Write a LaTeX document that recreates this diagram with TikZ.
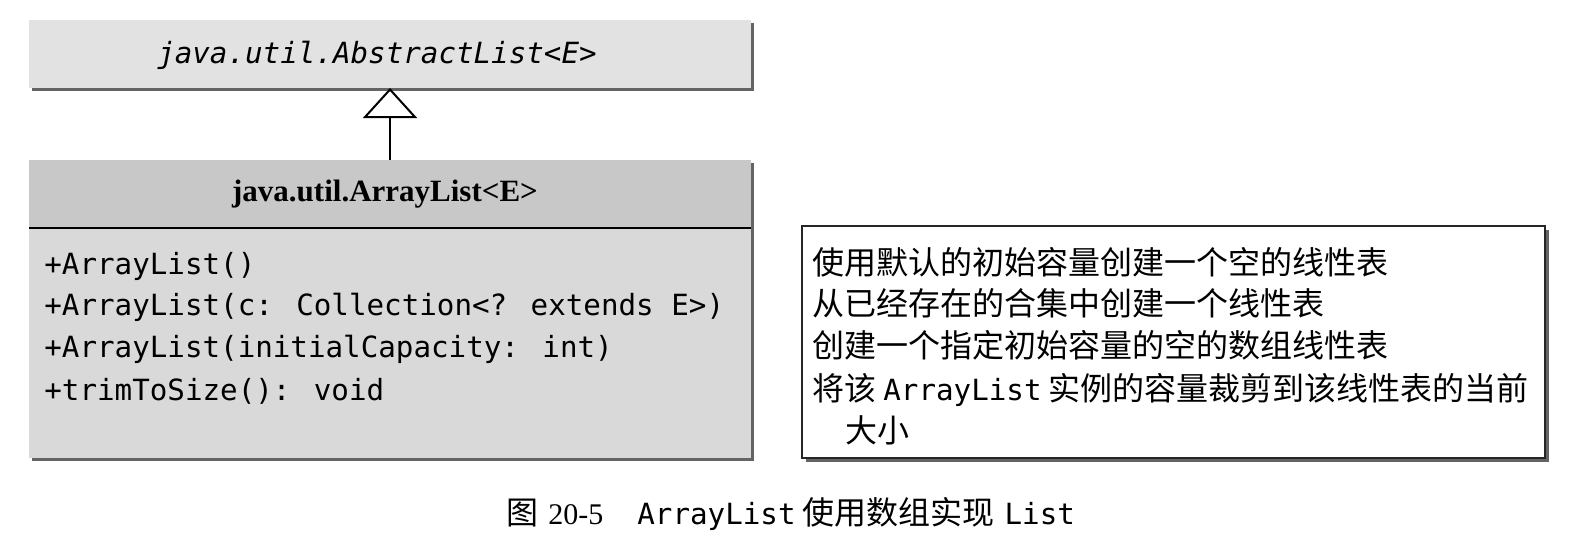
\documentclass[tikz,border=0pt]{standalone}
\usepackage{fontspec}
\setmainfont{Liberation Serif}
\newfontfamily\cjk{Noto Sans CJK SC}
\newfontfamily\mono{DejaVu Sans Mono}
\usetikzlibrary{arrows.meta,backgrounds}
\definecolor{topfill}{RGB}{226,226,226}
\definecolor{hdrfill}{RGB}{200,200,200}
\definecolor{bodyfill}{RGB}{217,217,217}
\definecolor{shadowc}{RGB}{100,100,100}
\newcommand{\monof}{\mono\fontsize{14.6pt}{16pt}\selectfont}
\newcommand{\cjkf}{\cjk\fontsize{16pt}{18pt}\selectfont}
\begin{document}
\begin{tikzpicture}[x=0.5pt,y=-0.5pt,
  box/.style={draw=none,inner sep=0pt,outer sep=0pt},
  monotext/.style={anchor=base west,inner sep=0pt,font=\monof},
  cjktext/.style={anchor=base west,inner sep=0pt,font=\cjkf},
  shadowbox/.style={fill=shadowc},
  conn/.style={line width=1pt,-{Triangle[open,length=15pt,width=27pt,line width=1pt]}}]

\useasboundingbox (0,0) rectangle (1577,558);

% superclass
\node[box,fill=topfill,minimum width=361pt,minimum height=34pt] (abs) at (390,54) {};
\node[inner sep=0pt,font=\monof\itshape] (abstxt) at (377,55) {java.util.AbstractList<E>};

% ArrayList class
\node[box,fill=hdrfill,minimum width=361pt,minimum height=34pt] (hdr) at (390,194) {};
\node[box,fill=bodyfill,minimum width=361pt,minimum height=115pt] (body) at (390,343) {};
\node[inner sep=0pt,font=\bfseries\fontsize{15.5pt}{17pt}\selectfont] (hdrtxt) at (385,194) {java.util.ArrayList<E>};
\draw[line width=1pt] (hdr.south west) -- (hdr.south east);

\node[monotext] (m1) at (44,274) {+ArrayList()};
\node[monotext] (m2) at (44,315) {+ArrayList(c: Collection<? extends E>)};
\node[monotext] (m3) at (44,357) {+ArrayList(initialCapacity: int)};
\node[monotext] (m4) at (44,400) {+trimToSize(): void};

% description box
\node[box,draw=black!85,line width=0.8pt,fill=white,minimum width=371.5pt,minimum height=116pt] (desc) at (1173.5,342) {};
\node[cjktext] (d1) at (812,274) {使用默认的初始容量创建一个空的线性表};
\node[cjktext] (d2) at (812,315) {从已经存在的合集中创建一个线性表};
\node[cjktext] (d3) at (812,357) {创建一个指定初始容量的空的数组线性表};
\node[cjktext] (d4) at (812,400) {将该\hspace{3.5pt}{\monof ArrayList}\hspace{3.5pt}实例的容量裁剪到该线性表的当前};
\node[cjktext] (d5) at (845,442) {大小};

% shadows
\begin{scope}[on background layer]
\fill[white] (0,0) rectangle (1577,558);
\fill[shadowbox] ([shift={(1.6pt,-1.6pt)}]abs.south west) rectangle ([shift={(1.6pt,-1.6pt)}]abs.north east);
\fill[shadowbox] ([shift={(1.6pt,-1.6pt)}]body.south west) rectangle ([shift={(1.6pt,-1.6pt)}]hdr.north east);
\fill[shadowbox] ([shift={(1.8pt,-1.8pt)}]desc.south west) rectangle ([shift={(1.8pt,-1.8pt)}]desc.north east);
\end{scope}

% generalization
\draw[conn] (hdr.north) -- (abs.south);

% caption
\node[anchor=base west,inner sep=0pt] (cap) at (506,524)
  {{\cjkf 图}\hspace{5pt}{\fontsize{15pt}{17pt}\selectfont 20-5}\hspace{17pt}{\monof ArrayList}\hspace{3.5pt}{\cjkf 使用数组实现}\hspace{5pt}{\monof List}};
\end{tikzpicture}
\end{document}
